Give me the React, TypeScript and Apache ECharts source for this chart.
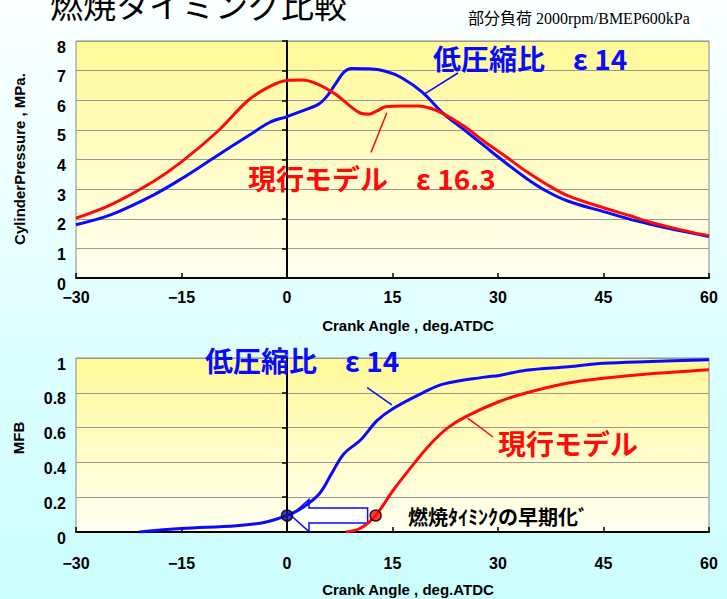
import React, { useEffect, useRef } from "react";
import * as echarts from "echarts";

// ---- Cylinder pressure (MPa) vs crank angle (deg ATDC)
const cpLowDeg = [-30, -25, -19, -15, -10, -5.5, -2.5, 0, 2.2, 4.5, 5.7, 6.9, 8.1, 9.2, 11.6, 14, 16.3, 19.3, 22.2, 25.2, 28.1, 30.2, 34, 37, 40, 45, 48.8, 51.7, 54.7, 57.6, 60];
const cpLowVal = [1.8, 2.14, 2.8, 3.35, 4.12, 4.8, 5.25, 5.45, 5.64, 5.87, 6.14, 6.55, 6.95, 7.07, 7.06, 6.98, 6.76, 6.26, 5.56, 5.0, 4.45, 4.05, 3.37, 2.92, 2.59, 2.24, 1.98, 1.81, 1.65, 1.52, 1.4];
const cpCurDeg = [-30, -25, -19, -15, -10, -5.5, -2.5, 0, 2.2, 4.5, 6.9, 9.2, 10.4, 11.6, 12.8, 14, 16.3, 18.7, 20.5, 22.2, 25.2, 28.1, 31.1, 34, 37, 40, 45, 48.8, 51.7, 54.7, 57.6, 60];
const cpCurVal = [2.02, 2.48, 3.26, 3.92, 4.92, 6.0, 6.46, 6.67, 6.68, 6.53, 6.2, 5.76, 5.57, 5.53, 5.64, 5.78, 5.81, 5.81, 5.72, 5.55, 5.12, 4.6, 4.1, 3.6, 3.15, 2.77, 2.37, 2.1, 1.88, 1.7, 1.54, 1.43];

// ---- Mass fraction burned
const mfbLowDeg = [-21, -15, -7.2, -3.1, 0, 2.2, 4.6, 6.4, 8.1, 10.5, 12.8, 15.1, 19.3, 22.2, 28.1, 30.2, 34, 40, 45, 51.7, 60];
const mfbLowVal = [0, 0.02, 0.036, 0.056, 0.095, 0.14, 0.22, 0.34, 0.45, 0.53, 0.64, 0.71, 0.8, 0.85, 0.89, 0.9, 0.93, 0.95, 0.97, 0.98, 0.99];
const mfbCurDeg = [8.4, 10.5, 12.6, 15.1, 18.2, 20.5, 22.9, 25.5, 30.2, 34.1, 40, 45.3, 51.7, 60];
const mfbCurVal = [0, 0.023, 0.095, 0.24, 0.4, 0.51, 0.6, 0.665, 0.75, 0.8, 0.856, 0.885, 0.91, 0.933];

// combustion timing points (10% burned)
const timingLow = [0, 0.095];
const timingCur = [12.6, 0.095];

// axis ticks
const xTicks = { min: -30, max: 60, interval: 15 };
const cpTicks = { min: 0, max: 8, interval: 1 };
const mfbTicks = { min: 0, max: 1, interval: 0.2 };

// leader lines (data coords)
const leadCpLow = [[24.3, 6.92], [19.35, 6.18]];
const leadCpCur = [[14.2, 5.58], [11.95, 4.24]];
const leadMfbLow = [[11.4, 0.83], [14.9, 0.73]];
const leadMfbCur = [[25.7, 0.655], [29.3, 0.546]];

const BLUE = "#0a0aff";
const RED = "#ff0a0a";
const NUM_FONT = "'Liberation Sans Narrow', 'Liberation Sans', Arial, sans-serif";
const JP_FONT = "'Noto Sans CJK JP', sans-serif";

const zip = (a: number[], b: number[]) => a.map((v, i) => [v, b[i]]);
const fmtX = (v: number) => (v < 0 ? "\u2212" + Math.abs(v) : String(v));

export default function App() {
  const ref = useRef<HTMLDivElement>(null);
  useEffect(() => {
    if (!ref.current) return;
    const chart = echarts.init(ref.current, null, { renderer: "svg" });
    const mkBg = () =>
      new echarts.graphic.LinearGradient(0, 0, 0, 1, [
        { offset: 0, color: "#fff997" },
        { offset: 1, color: "#fffff2" },
      ]);
    const xAxisBase = (gridIndex: number, margin: number) => ({
      type: "value",
      gridIndex,
      ...xTicks,
      axisLine: { show: true, onZero: false, lineStyle: { color: "#000", width: 2 } },
      axisTick: { show: true, inside: true, length: 5, lineStyle: { color: "#000", width: 1.5 } },
      axisLabel: {
        color: "#000",
        fontSize: 16,
        fontWeight: "bold",
        fontFamily: NUM_FONT,
        margin,
        formatter: fmtX,
      },
      splitLine: { show: false },
    });
    const yLabelAxis = (gridIndex: number, t: any) => ({
      type: "value",
      gridIndex,
      ...t,
      axisLine: { show: false, onZero: false },
      axisTick: { show: false },
      axisLabel: {
        color: "#000",
        fontSize: 16,
        fontWeight: "bold",
        fontFamily: NUM_FONT,
        margin: 10,
        verticalAlign: "top",
        lineHeight: 12,
      },
      splitLine: { show: true, lineStyle: { color: "#999", width: 1 } },
    });
    const yZeroAxis = (gridIndex: number, t: any) => ({
      type: "value",
      gridIndex,
      ...t,
      axisLine: { show: true, onZero: true, lineStyle: { color: "#000", width: 2 } },
      axisTick: { show: true, inside: true, length: 5, lineStyle: { color: "#000", width: 1.5 } },
      axisLabel: { show: false },
      splitLine: { show: false },
    });
    const lead = (pts: number[][], color: string) => ({
      silent: true,
      symbol: ["none", "none"],
      label: { show: false },
      lineStyle: { color, width: 1.5, type: "solid" },
      data: [[{ coord: pts[0] }, { coord: pts[1] }]],
    });
    const lineSeries = (name: string, data: number[][], color: string, xi: number, yi: number, ml: any) => ({
      type: "line",
      name,
      xAxisIndex: xi,
      yAxisIndex: yi,
      data,
      smooth: 0.35,
      showSymbol: false,
      z: 3,
      lineStyle: { color, width: 3 },
      itemStyle: { color },
      markLine: ml,
    });

    const txt = (text: string, x: number, y: number, size: number, color: string, weight = "bold") => ({
      type: "text",
      x,
      y,
      z: 10,
      style: {
        text,
        fill: color,
        fontSize: size,
        fontWeight: weight,
        fontFamily: JP_FONT,
        verticalAlign: "middle",
        align: "left",
      },
    });
    const axisName = (text: string, x: number, y: number, rot: number) => ({
      type: "text",
      x,
      y,
      rotation: rot,
      style: { text, fill: "#000", fontSize: 15, fontWeight: "bold", fontFamily: NUM_FONT, align: "center", verticalAlign: "middle" },
    });

    chart.setOption({
      animation: false,
      grid: [
        { left: 76, top: 41, width: 633, height: 237, show: true, backgroundColor: mkBg(), borderColor: "#888", borderWidth: 1 },
        { left: 76, top: 358, width: 633, height: 174, show: true, backgroundColor: mkBg(), borderColor: "#888", borderWidth: 1 },
      ],
      xAxis: [xAxisBase(0, 11), xAxisBase(1, 23)],
      yAxis: [yLabelAxis(0, cpTicks), yZeroAxis(0, cpTicks), yLabelAxis(1, mfbTicks), yZeroAxis(1, mfbTicks)],
      series: [
        lineSeries("低圧縮比 ε14", zip(cpLowDeg, cpLowVal), BLUE, 0, 0, lead(leadCpLow, BLUE)),
        lineSeries("現行モデル ε16.3", zip(cpCurDeg, cpCurVal), RED, 0, 0, lead(leadCpCur, RED)),
        lineSeries("低圧縮比 MFB", zip(mfbLowDeg, mfbLowVal), BLUE, 1, 2, lead(leadMfbLow, BLUE)),
        lineSeries("現行モデル MFB", zip(mfbCurDeg, mfbCurVal), RED, 1, 2, lead(leadMfbCur, RED)),
        {
          type: "custom",
          xAxisIndex: 1,
          yAxisIndex: 2,
          z: 2,
          silent: true,
          data: [[timingCur[0], timingCur[1], timingLow[0], timingLow[1]]],
          renderItem: (params: any, api: any) => {
            const p1 = api.coord([api.value(0), api.value(1)]);
            const p0 = api.coord([api.value(2), api.value(3)]);
            const y = p0[1];
            const tip = p0[0] + 4;
            const hb = p0[0] + 22;
            const end = p1[0] - 8;
            return {
              type: "polygon",
              shape: {
                points: [
                  [tip, y],
                  [hb, y - 16],
                  [hb, y - 7.5],
                  [end, y - 7.5],
                  [end, y + 7.5],
                  [hb, y + 7.5],
                  [hb, y + 16],
                ],
              },
              style: { fill: "#ffffff", stroke: BLUE, lineWidth: 1.5 },
            };
          },
        },
        {
          type: "scatter",
          xAxisIndex: 1,
          yAxisIndex: 2,
          z: 5,
          symbolSize: 11,
          data: [timingLow],
          itemStyle: { color: "#1010a0", borderColor: "#000", borderWidth: 1.5 },
        },
        {
          type: "scatter",
          xAxisIndex: 1,
          yAxisIndex: 2,
          z: 5,
          symbolSize: 11,
          data: [timingCur],
          itemStyle: { color: "#ff1010", borderColor: "#000", borderWidth: 1.5 },
        },
      ],
      graphic: [
        txt("燃焼タイミング比較", 50, 4, 33, "#000", "normal"),
        {
          type: "text",
          x: 468,
          y: 18,
          style: { text: "部分負荷 2000rpm/BMEP600kPa", fill: "#000", fontSize: 16, fontFamily: "'Liberation Serif', 'Noto Sans CJK JP', serif", verticalAlign: "middle" },
        },
        txt("低圧縮比　ε 14", 433, 58, 28, BLUE),
        txt("現行モデル　ε 16.3", 248, 178, 28, RED),
        txt("低圧縮比　ε 14", 205, 360, 28, BLUE),
        txt("現行モデル", 498, 443, 28, RED),
        txt("燃焼ﾀｲﾐﾝｸの早期化ﾞ", 408, 516, 20, "#000"),
        axisName("CylinderPressure , MPa.", 19, 159, Math.PI / 2),
        axisName("MFB", 18, 438, Math.PI / 2),
        axisName("Crank Angle , deg.ATDC", 408, 325, 0),
        axisName("Crank Angle , deg.ATDC", 408, 589, 0),
      ],
    });
    return () => chart.dispose();
  }, []);
  return (
    <div
      style={{
        position: "fixed",
        left: 0,
        top: 0,
        width: 727,
        height: 599,
        background: "linear-gradient(180deg, #fbffff 0%, #e4ffff 45%, #cbfdfd 100%)",
      }}
    >
      <div ref={ref} style={{ width: 727, height: 599 }} />
    </div>
  );
}
